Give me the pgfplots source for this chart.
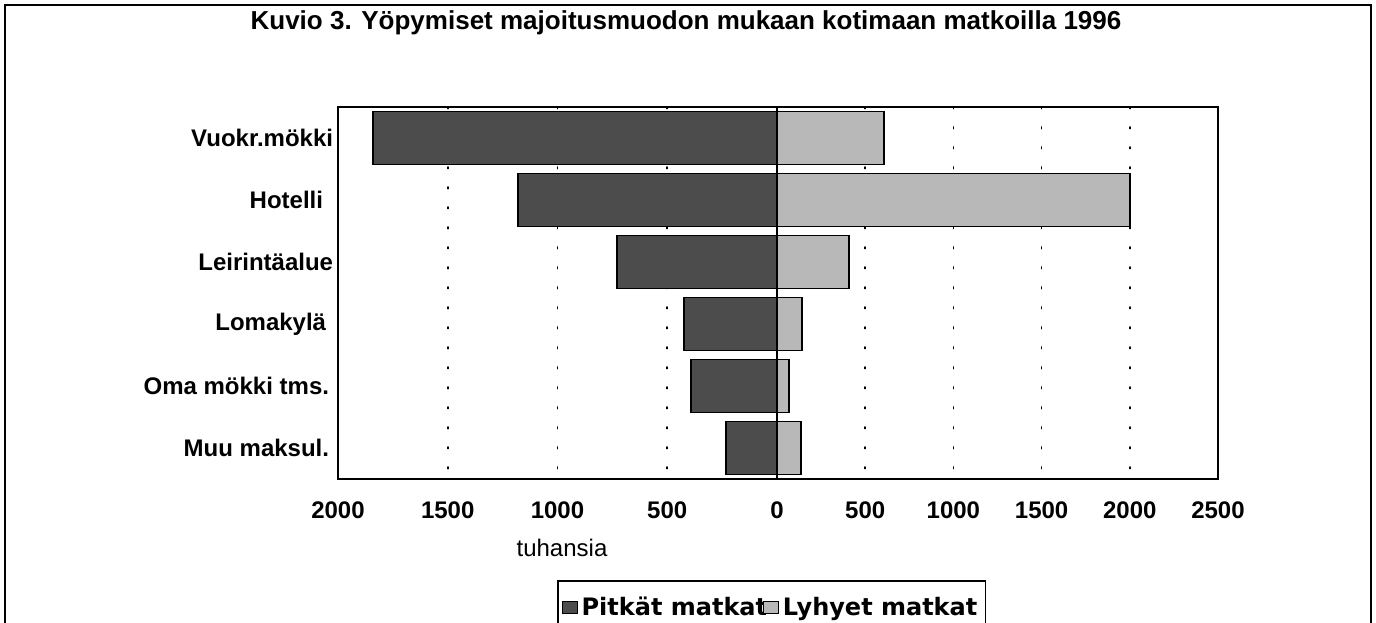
\documentclass[border=0pt]{standalone}
\usepackage{fontspec}
\setmainfont{Liberation Sans}
\newfontfamily\dejavu{DejaVu Sans}
\usepackage{pgfplots}
\usepackage{pgfplotstable}
\pgfplotsset{compat=1.18}

\pgfplotstableread{
cat long short
0 1840 607
1 1180 2000
2 729 408
3 424 142
4 392 68
5 232 136
}\data

\definecolor{darkbar}{gray}{0.30}
\definecolor{lightbar}{gray}{0.72}

\begin{document}
\begin{tikzpicture}
\useasboundingbox (0pt,0pt) rectangle (688pt,-311pt);
\draw[line width=0.8pt] (2.5pt,-2.5pt) rectangle (685.5pt,-340pt);
\node[font=\bfseries\fontsize{13}{15}\selectfont] at (343pt,-11.5pt) {Kuvio 3. Yöpymiset majoitusmuodon mukaan kotimaan matkoilla 1996};
\node[font=\fontsize{12}{14}\selectfont] at (281pt,-274pt) {tuhansia};

\pgfplotsset{
  butterfly/.style={
    anchor=south west, scale only axis, height=186pt,
    xbar, bar width=26.5pt,
    ymin=-0.5, ymax=5.5, y dir=reverse,
    tick style={draw=none},
    axis line style={line width=0.9pt},
    xmajorgrids,
    major grid style={black, line width=0.8pt, dash pattern=on 0.8pt off 9.2pt, line cap=round},
    xticklabel style={font=\bfseries\fontsize{12}{14}\selectfont, anchor=north, inner sep=0pt, yshift=-11pt},
    yticklabel style={font=\bfseries\fontsize{12}{14}\selectfont, anchor=east, inner sep=0pt, xshift=2pt},
  }
}

\begin{axis}[butterfly,
  at={(169pt,-239.5pt)}, width=219.5pt,
  x dir=reverse, xmin=0, xmax=2000,
  xtick={0,500,1000,1500,2000}, xticklabels={0,500,1000,1500,2000},
  ytick={0,1,2,3,4,5},
  yticklabels={Vuokr.mökki, Hotelli\kern5pt, Leirintäalue, Lomakylä\kern3.5pt, Oma mökki tms.\kern2pt, Muu maksul.\kern2pt},
]
\addplot[fill=darkbar, draw=black, line width=0.9pt] table[x=long, y=cat]{\data};
\end{axis}

\begin{axis}[butterfly,
  at={(388.5pt,-239.5pt)}, width=220.5pt,
  xmin=0, xmax=2500,
  xtick={500,1000,1500,2000,2500}, xticklabels={500,1000,1500,2000,2500},
  ytick=\empty,
  legend columns=2,
  legend style={at={(-0.499,-0.2715)}, anchor=north west, draw=black, line width=0.8pt,
    font=\dejavu\bfseries\fontsize{12}{14}\selectfont, inner xsep=2pt, inner ysep=6pt,
    /tikz/every even column/.append style={column sep=-4pt}},
  legend image code/.code={\draw[#1, line width=0.4pt] (0pt,-3pt) rectangle (7.5pt,3pt);},
]
\addlegendimage{fill=darkbar, draw=black}
\addlegendentry{Pitkät matkat}
\addplot[fill=lightbar, draw=black, line width=0.9pt] table[x=short, y=cat]{\data};
\addlegendentry{Lyhyet matkat}
\end{axis}
\end{tikzpicture}
\end{document}
